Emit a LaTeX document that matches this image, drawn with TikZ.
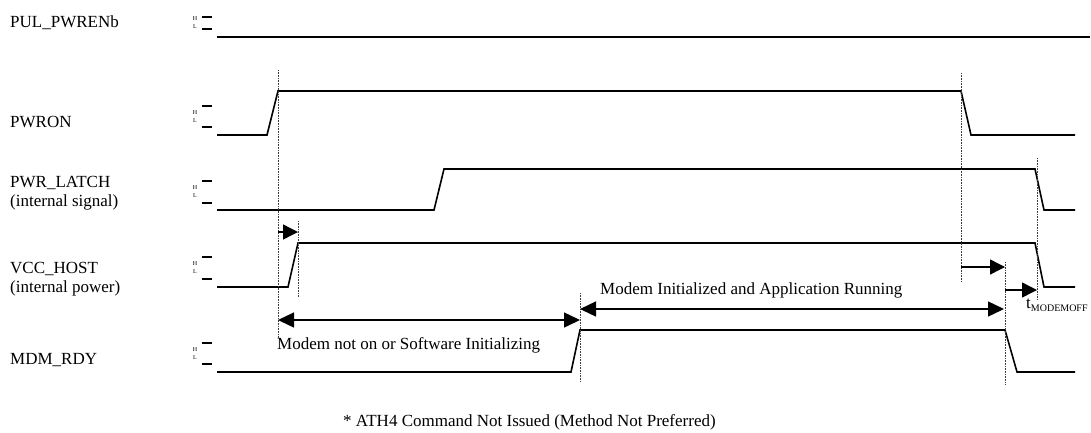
\documentclass[tikz,border=0pt]{standalone}
\usepackage{fontspec}
\setmainfont{Liberation Serif}
\usetikzlibrary{arrows.meta}
\newcommand\hlmark[3]{%
  \draw[hlbar] (202,#1) -- (212,#1);
  \draw[hlbar] (202,#2) -- (212,#2);
  \node[tinytxt] (#3H) at (195,{(#1+#2)/2-4}) {H};
  \node[tinytxt] (#3L) at (195,{(#1+#2)/2+4}) {L};}
\begin{document}
\begin{tikzpicture}[x=1pt,y=-1pt,
  wave/.style={line width=1.6pt, line join=miter},
  hlbar/.style={line width=1.8pt},
  guide/.style={line width=0.8pt, dash pattern=on 0.8pt off 0.8pt, black!75},
  tarrow/.style={line width=1.4pt, -{Triangle[length=15pt,width=15pt]}},
  darrow/.style={line width=1.4pt, {Triangle[length=16pt,width=15pt]}-{Triangle[length=16pt,width=15pt]}},
  lbl/.style={inner sep=0pt, anchor=west, font=\fontsize{17}{19}\selectfont, align=left},
  tinytxt/.style={inner sep=0pt, font=\fontsize{6}{6}\selectfont}]
\useasboundingbox (0,0) rectangle (1091,432);

% signal names
\node[lbl] (nPUL) at (10,23) {PUL\_PWRENb};
\node[lbl] (nPWRON) at (10,122) {PWRON};
\node[lbl] (nLATCH) at (10,193) {PWR\_LATCH\\(internal signal)};
\node[lbl] (nVCC) at (10,279) {VCC\_HOST\\(internal power)};
\node[lbl] (nMDM) at (10,360) {MDM\_RDY};

% H/L markers
\hlmark{17}{29}{pul}
\hlmark{106}{127}{pwron}
\hlmark{181}{203}{latch}
\hlmark{257}{279}{vcc}
\hlmark{343}{364}{mdm}

% waveforms
\draw[wave] (217,37) -- (1090,37);
\draw[wave] (217,135) -- (267,135) -- (278,91) -- (961,91) -- (971,135) -- (1075,135);
\draw[wave] (217,210) -- (434,210) -- (444,169) -- (1035,169) -- (1044,210) -- (1075,210);
\draw[wave] (217,287) -- (288,287) -- (298,243) -- (1035,243) -- (1044,287) -- (1075,287);
\draw[wave] (217,372) -- (571,372) -- (580,330) -- (1005,330) -- (1017,372) -- (1075,372);

% guide lines
\coordinate (g1t) at (278,70);  \coordinate (g1b) at (278,338);
\coordinate (g2t) at (298,221); \coordinate (g2b) at (298,297);
\coordinate (g3t) at (580,293); \coordinate (g3b) at (580,382);
\coordinate (g4t) at (961,73);  \coordinate (g4b) at (961,282);
\coordinate (g5t) at (1005,262);\coordinate (g5b) at (1005,385);
\coordinate (g6t) at (1037,158);\coordinate (g6b) at (1037,300);
\foreach \g in {g1,g2,g3,g4,g5,g6} \draw[guide] (\g t) -- (\g b);

% timing arrows
\coordinate (a1s) at (278,232); \coordinate (a1e) at (298,232);
\coordinate (d1s) at (278,320); \coordinate (d1e) at (580,320);
\coordinate (d2s) at (580,309); \coordinate (d2e) at (1004,309);
\coordinate (a2s) at (961,267); \coordinate (a2e) at (1005,267);
\coordinate (a3s) at (1005,290); \coordinate (a3e) at (1037,290);
\draw[tarrow] (a1s) -- (a1e);
\draw[darrow] (d1s) -- (d1e);
\draw[darrow] (d2s) -- (d2e);
\draw[tarrow] (a2s) -- (a2e);
\draw[tarrow] (a3s) -- (a3e);

% annotations
\node[lbl] (tNot) at (277,345) {Modem not on or Software Initializing};
\node[lbl] (tRun) at (600,290) {Modem Initialized and Application Running};
\node[lbl] (tOff) at (1026,305) {t\textsubscript{\fontsize{10}{10}\selectfont MODEMOFF}};
\node[lbl] (tFoot) at (343,422) {* ATH4 Command Not Issued (Method Not Preferred)};
\end{tikzpicture}
\end{document}
